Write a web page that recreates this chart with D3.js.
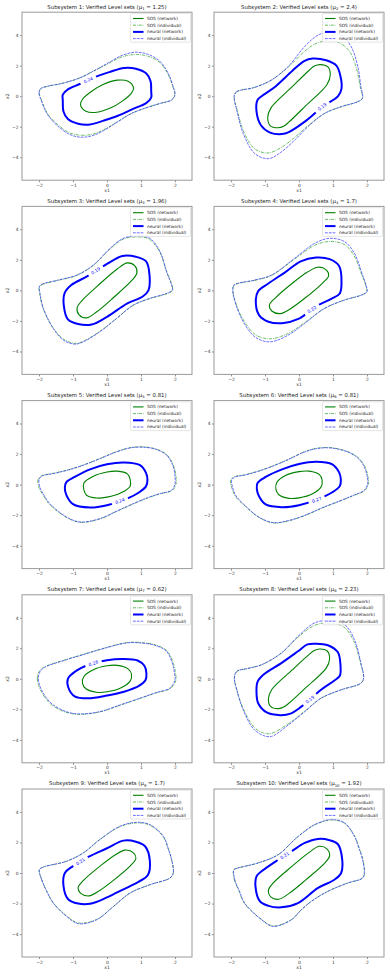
<!DOCTYPE html>
<html><head><meta charset="utf-8">
<script src="https://cdn.jsdelivr.net/npm/d3@7"></script>
<style>
body{margin:0;background:#fff;}
svg{display:block;font-family:"DejaVu Sans",sans-serif;}
</style></head><body>
<svg id="chart" width="390" height="976"></svg>
<script>
// mu value per subsystem and the level printed on the neural (network) contour
const mus = [1.25, 2.4, 1.96, 1.7, 0.81, 0.81, 0.62, 2.23, 1.7, 1.92];
const levelLabels = ["0.24", "0.19", "0.19", "0.22", "0.24", "0.27", "0.28", "0.19", "0.21", "0.21"];
const labelPoints = [[-0.55,1.05],[0.68,-0.7],[-0.33,1.28],[0.38,-1.25],[0.38,-1.08],[0.52,-0.99],[-0.4,1.02],[0.32,-1.36],[-0.78,0.75],[-0.42,1.14]];
const xTicks = [-2, -1, 0, 1, 2];
const yTicks = [-4, -2, 0, 2, 4];
const legendLabels = ["SOS (network)", "SOS (individual)", "neural (network)", "neural (individual)"];

// level set curves, one list of (x1, x2) points per subsystem
const sosNetwork = [
  [[0.78,0.55],[0.62,0.98],[0.3,1.05],[-0.1,0.78],[-0.45,0.32],[-0.72,-0.2],[-0.78,-0.55],[-0.62,-0.98],[-0.3,-1.05],[0.1,-0.78],[0.45,-0.32],[0.72,0.2]],
  [[0.62,2.07],[0.85,1.92],[0.92,1.4],[0.82,0.75],[0.2,-0.62],[-0.3,-1.7],[-0.45,-1.97],[-0.62,-2.07],[-0.85,-1.92],[-0.92,-1.4],[-0.82,-0.75],[-0.2,0.62],[0.3,1.7],[0.45,1.97]],
  [[0.6,1.8],[0.82,1.6],[0.88,1.15],[0.75,0.7],[0.2,-0.45],[-0.3,-1.4],[-0.6,-1.8],[-0.82,-1.6],[-0.88,-1.15],[-0.75,-0.7],[-0.2,0.45],[0.3,1.4]],
  [[0.55,1.52],[0.8,1.35],[0.87,0.95],[0.7,0.5],[0.15,-0.55],[-0.25,-1.2],[-0.55,-1.52],[-0.8,-1.35],[-0.87,-0.95],[-0.7,-0.5],[-0.15,0.55],[0.25,1.2]],
  [[0.68,0.35],[0.6,0.7],[0.3,0.88],[0.0,0.82],[-0.4,0.55],[-0.68,0.1],[-0.68,-0.35],[-0.6,-0.7],[-0.3,-0.88],[0.0,-0.82],[0.4,-0.55],[0.68,-0.1]],
  [[0.68,0.3],[0.6,0.65],[0.3,0.88],[0.0,0.85],[-0.4,0.6],[-0.65,0.15],[-0.68,-0.3],[-0.6,-0.65],[-0.3,-0.9],[0.0,-0.87],[0.4,-0.6],[0.65,-0.15]],
  [[0.72,0.3],[0.62,0.65],[0.3,0.88],[0.0,0.85],[-0.4,0.6],[-0.68,0.15],[-0.72,-0.3],[-0.62,-0.65],[-0.3,-0.88],[0.0,-0.85],[0.4,-0.6],[0.68,-0.15]],
  [[0.6,1.95],[0.83,1.82],[0.9,1.3],[0.8,0.7],[0.2,-0.58],[-0.3,-1.6],[-0.45,-1.85],[-0.6,-1.95],[-0.83,-1.82],[-0.9,-1.3],[-0.8,-0.7],[-0.2,0.58],[0.3,1.6],[0.45,1.85]],
  [[0.53,1.5],[0.78,1.32],[0.85,0.95],[0.7,0.5],[0.15,-0.55],[-0.25,-1.2],[-0.53,-1.5],[-0.78,-1.32],[-0.85,-0.95],[-0.7,-0.5],[-0.15,0.55],[0.25,1.2]],
  [[0.6,1.75],[0.82,1.58],[0.9,1.12],[0.77,0.68],[0.2,-0.45],[-0.3,-1.35],[-0.6,-1.72],[-0.82,-1.58],[-0.9,-1.12],[-0.77,-0.68],[-0.2,0.45],[0.3,1.35]]
];

const neuralNetwork = [
  [[1.3,0.3],[1.28,1.0],[1.15,1.5],[0.85,1.8],[0.5,1.85],[0.1,1.6],[-0.3,1.3],[-0.8,0.8],[-1.15,0.45],[-1.3,0.1],[-1.3,-0.3],[-1.28,-1.0],[-1.15,-1.5],[-0.85,-1.8],[-0.5,-1.85],[-0.1,-1.6],[0.3,-1.3],[0.8,-0.8],[1.15,-0.45],[1.3,-0.1]],
  [[0.4,2.47],[0.8,2.35],[1.1,2.0],[1.22,1.3],[1.25,0.5],[1.15,0.0],[0.7,-0.68],[0.15,-1.7],[-0.3,-2.35],[-0.5,-2.48],[-0.85,-2.38],[-1.12,-1.9],[-1.25,-1.0],[-1.22,-0.25],[-1.1,0.0],[-0.7,0.62],[-0.2,1.65],[0.15,2.3]],
  [[0.45,2.25],[0.85,2.2],[1.15,1.9],[1.25,1.0],[1.22,0.0],[1.05,-0.4],[0.6,-0.85],[0.0,-1.73],[-0.45,-2.23],[-0.85,-2.2],[-1.15,-1.9],[-1.27,-1.0],[-1.25,-0.2],[-1.05,0.35],[-0.6,0.9],[0.0,1.73]],
  [[0.5,2.15],[0.9,2.05],[1.18,1.6],[1.25,0.5],[1.2,-0.2],[0.95,-0.55],[0.5,-1.05],[0.0,-1.85],[-0.5,-2.15],[-0.9,-2.05],[-1.18,-1.6],[-1.27,-0.6],[-1.2,-0.05],[-0.9,0.45],[-0.4,1.2],[0.05,1.9]],
  [[1.19,0.3],[1.15,0.75],[0.97,1.27],[0.5,1.45],[0.0,1.33],[-0.5,1.0],[-0.95,0.5],[-1.2,0.15],[-1.24,-0.2],[-1.2,-0.65],[-1.0,-1.28],[-0.5,-1.5],[0.0,-1.35],[0.5,-1.0],[0.95,-0.5],[1.15,-0.1]],
  [[1.23,0.35],[1.18,0.8],[0.98,1.33],[0.5,1.5],[0.0,1.35],[-0.5,1.0],[-0.98,0.5],[-1.22,0.1],[-1.24,-0.3],[-1.18,-0.75],[-0.98,-1.3],[-0.5,-1.48],[0.0,-1.35],[0.5,-1.0],[0.98,-0.5],[1.2,-0.1]],
  [[1.16,0.35],[1.1,0.85],[0.9,1.2],[0.48,1.3],[0.0,1.22],[-0.5,0.95],[-0.95,0.45],[-1.15,0.0],[-1.14,-0.55],[-0.95,-1.15],[-0.55,-1.28],[0.0,-1.1],[0.5,-0.85],[0.95,-0.45],[1.13,-0.1]],
  [[0.5,2.3],[0.85,2.2],[1.14,1.75],[1.22,0.9],[1.2,0.2],[1.05,-0.1],[0.65,-0.72],[0.07,-1.82],[-0.25,-2.28],[-0.55,-2.38],[-0.95,-2.2],[-1.2,-1.6],[-1.25,-0.9],[-1.22,-0.2],[-1.05,0.26],[-0.52,1.03],[-0.03,1.8],[0.25,2.25]],
  [[0.48,2.12],[0.85,2.05],[1.12,1.75],[1.26,0.8],[1.2,-0.15],[0.95,-0.55],[0.5,-1.05],[0.0,-1.6],[-0.5,-2.02],[-0.85,-2.0],[-1.15,-1.7],[-1.28,-0.85],[-1.24,0.0],[-1.0,0.45],[-0.55,1.05],[0.0,1.62]],
  [[0.56,2.23],[0.9,2.15],[1.14,1.9],[1.27,0.9],[1.24,0.0],[1.04,-0.44],[0.56,-0.98],[-0.03,-1.97],[-0.52,-2.25],[-0.9,-2.15],[-1.15,-1.85],[-1.28,-0.87],[-1.25,-0.22],[-1.1,0.11],[-0.61,0.87],[-0.22,1.42],[0.17,1.97]]
];

const neuralIndividual = [
  [[-1.95,0.5],[-2.0,0.2],[-1.93,-0.3],[-1.75,-1.2],[-1.45,-1.95],[-1.1,-2.5],[-0.8,-2.68],[-0.45,-2.6],[-0.1,-2.25],[0.3,-1.7],[0.7,-1.15],[1.1,-0.8],[1.6,-0.45],[1.9,-0.25],[2.0,0.1],[1.95,0.6],[1.8,1.5],[1.55,2.3],[1.2,2.75],[0.85,2.88],[0.45,2.68],[0.05,2.2],[-0.35,1.7],[-0.8,1.2],[-1.3,0.85],[-1.75,0.65]],
  [[-1.9,0.08],[-1.83,0.3],[-1.3,0.58],[-0.81,1.06],[-0.32,1.94],[0.17,3.26],[0.56,4.0],[0.9,4.2],[1.24,4.0],[1.53,3.26],[1.73,1.94],[1.82,0.63],[1.87,-0.14],[1.73,-0.36],[1.24,-0.69],[0.75,-1.13],[0.26,-2.0],[-0.13,-2.88],[-0.52,-3.65],[-0.9,-4.09],[-1.3,-3.76],[-1.64,-2.44],[-1.83,-0.91],[-1.9,-0.25]],
  [[-1.99,0.24],[-1.92,0.4],[-1.43,0.68],[-0.89,1.0],[-0.4,1.66],[0.09,2.75],[0.48,3.41],[0.92,3.56],[1.26,3.41],[1.56,2.54],[1.75,1.22],[1.9,0.35],[1.92,0.02],[1.75,-0.2],[1.26,-0.52],[0.77,-0.96],[0.28,-1.84],[-0.21,-2.71],[-0.7,-3.37],[-0.94,-3.52],[-1.28,-3.26],[-1.58,-2.49],[-1.87,-1.18],[-1.97,-0.2]],
  [[-1.91,0.35],[-1.3,0.68],[-0.81,1.0],[-0.13,2.1],[0.46,3.08],[0.9,3.41],[1.34,3.19],[1.63,2.43],[1.87,1.0],[1.97,0.35],[2.0,-0.09],[1.83,-0.31],[1.34,-0.63],[0.75,-1.18],[0.17,-2.16],[-0.32,-2.93],[-0.86,-3.37],[-1.3,-3.04],[-1.69,-1.84],[-1.91,-0.52],[-1.95,0.05]],
  [[-1.92,0.55],[-2.0,0.3],[-1.97,-0.2],[-1.85,-0.7],[-1.68,-1.25],[-1.19,-2.12],[-0.79,-2.45],[-0.21,-2.23],[0.3,-1.72],[0.77,-1.25],[1.2,-0.85],[1.56,-0.59],[1.9,-0.37],[2.0,0.05],[2.0,0.5],[1.95,1.16],[1.75,1.93],[1.36,2.36],[0.77,2.43],[0.28,2.14],[-0.2,1.7],[-0.7,1.27],[-1.15,0.95],[-1.58,0.72]],
  [[-1.88,0.5],[-1.98,0.28],[-1.95,-0.2],[-1.85,-0.75],[-1.59,-1.36],[-1.2,-2.1],[-0.76,-2.49],[-0.3,-2.35],[0.17,-2.01],[0.7,-1.5],[1.24,-1.03],[1.6,-0.7],[1.92,-0.37],[2.02,0.07],[2.0,0.6],[1.92,1.16],[1.75,1.7],[1.53,2.04],[1.2,2.3],[0.85,2.41],[0.5,2.35],[0.17,2.14],[-0.45,1.5],[-1.1,0.94],[-1.6,0.62]],
  [[-1.99,0.37],[-2.02,0.0],[-1.97,-0.5],[-1.8,-1.2],[-1.58,-1.71],[-1.2,-2.15],[-0.84,-2.3],[-0.21,-2.15],[0.4,-1.7],[0.97,-1.27],[1.45,-0.9],[1.85,-0.61],[2.0,-0.07],[1.98,0.4],[1.95,0.81],[1.75,1.8],[1.4,2.2],[0.97,2.35],[0.58,2.35],[-0.21,1.91],[-0.7,1.58],[-1.19,1.25],[-1.87,0.7]],
  [[-1.9,0.04],[-1.83,0.48],[-1.5,0.68],[-1.1,0.92],[-0.52,1.69],[-0.03,2.78],[0.46,3.66],[0.95,3.82],[1.34,3.55],[1.63,2.57],[1.82,1.03],[1.9,0.04],[1.82,-0.29],[1.24,-0.72],[0.65,-1.27],[0.17,-2.15],[-0.32,-3.03],[-0.86,-3.79],[-1.3,-3.36],[-1.64,-2.04],[-1.83,-0.72]],
  [[-1.99,0.22],[-1.92,-0.44],[-1.75,-1.3],[-1.58,-1.97],[-1.19,-2.84],[-0.84,-3.32],[-0.3,-3.06],[0.19,-2.19],[0.68,-1.31],[1.26,-0.77],[1.85,-0.33],[1.95,0.0],[1.9,0.87],[1.8,1.6],[1.66,2.4],[1.26,3.17],[0.87,3.32],[0.38,3.06],[-0.21,2.19],[-0.7,1.31],[-1.19,0.77],[-1.87,0.39]],
  [[-1.91,0.22],[-1.89,-0.44],[-1.75,-1.2],[-1.6,-1.97],[-1.1,-3.06],[-0.76,-3.5],[-0.22,-3.06],[0.05,-2.45],[0.36,-1.86],[0.85,-1.2],[1.43,-0.66],[1.87,-0.33],[1.92,0.0],[1.87,0.87],[1.75,1.7],[1.63,2.4],[1.34,3.28],[0.95,3.5],[0.46,3.17],[0.15,2.7],[-0.13,2.19],[-0.61,1.2],[-1.2,0.66],[-1.79,0.33]]
];

const sosIndividual = [
  [[-1.95,0.48],[-1.99,0.2],[-1.92,-0.3],[-1.73,-1.2],[-1.43,-1.9],[-1.1,-2.4],[-0.8,-2.55],[-0.45,-2.5],[-0.1,-2.2],[0.3,-1.68],[0.7,-1.15],[1.1,-0.8],[1.6,-0.45],[1.9,-0.25],[1.99,0.1],[1.94,0.6],[1.78,1.5],[1.53,2.25],[1.2,2.62],[0.85,2.73],[0.45,2.58],[0.05,2.15],[-0.35,1.7],[-0.8,1.2],[-1.3,0.85],[-1.75,0.65]],
  [[-1.9,0.08],[-1.83,0.3],[-1.3,0.58],[-0.81,1.06],[-0.32,1.9],[0.17,2.95],[0.5,3.45],[0.85,3.62],[1.2,3.48],[1.48,2.95],[1.68,1.9],[1.8,0.63],[1.86,-0.14],[1.73,-0.36],[1.24,-0.69],[0.75,-1.13],[0.26,-1.95],[-0.13,-2.7],[-0.55,-3.4],[-0.92,-3.72],[-1.3,-3.45],[-1.62,-2.35],[-1.82,-0.91],[-1.9,-0.25]],
  [[-1.99,0.22],[-1.9,0.38],[-1.43,0.66],[-0.89,0.98],[-0.4,1.64],[0.09,2.72],[0.48,3.36],[0.9,3.5],[1.24,3.36],[1.55,2.52],[1.76,1.22],[1.91,0.35],[1.93,0.0],[1.76,-0.22],[1.26,-0.54],[0.77,-0.98],[0.28,-1.84],[-0.21,-2.68],[-0.7,-3.33],[-0.92,-3.47],[-1.26,-3.22],[-1.58,-2.47],[-1.88,-1.18],[-1.98,-0.2]],
  [[-1.91,0.33],[-1.3,0.66],[-0.81,0.98],[-0.13,2.05],[0.46,2.95],[0.9,3.2],[1.32,3.02],[1.6,2.35],[1.85,1.0],[1.96,0.35],[1.99,-0.09],[1.83,-0.31],[1.34,-0.63],[0.75,-1.18],[0.17,-2.1],[-0.32,-2.82],[-0.86,-3.17],[-1.28,-2.9],[-1.67,-1.8],[-1.9,-0.52],[-1.94,0.05]],
  [[-1.94,0.56],[-2.03,0.3],[-2.0,-0.2],[-1.87,-0.72],[-1.7,-1.27],[-1.2,-2.14],[-0.79,-2.47],[-0.21,-2.25],[0.3,-1.74],[0.77,-1.27],[1.2,-0.87],[1.57,-0.6],[1.92,-0.38],[2.03,0.05],[2.03,0.5],[1.97,1.17],[1.77,1.94],[1.36,2.38],[0.77,2.45],[0.28,2.16],[-0.2,1.72],[-0.7,1.28],[-1.15,0.96],[-1.58,0.74]],
  [[-1.9,0.52],[-2.01,0.28],[-1.98,-0.2],[-1.87,-0.77],[-1.6,-1.38],[-1.2,-2.12],[-0.76,-2.51],[-0.3,-2.37],[0.17,-2.03],[0.7,-1.52],[1.24,-1.05],[1.6,-0.72],[1.94,-0.38],[2.04,0.07],[2.02,0.6],[1.94,1.17],[1.77,1.71],[1.54,2.06],[1.2,2.32],[0.85,2.43],[0.5,2.37],[0.17,2.16],[-0.45,1.52],[-1.1,0.96],[-1.62,0.63]],
  [[-2.02,0.38],[-2.05,0.0],[-2.0,-0.5],[-1.83,-1.22],[-1.61,-1.74],[-1.22,-2.18],[-0.84,-2.33],[-0.21,-2.17],[0.4,-1.72],[0.97,-1.29],[1.45,-0.92],[1.87,-0.63],[2.03,-0.07],[2.01,0.4],[1.98,0.82],[1.77,1.82],[1.41,2.23],[0.97,2.38],[0.58,2.37],[-0.21,1.93],[-0.7,1.6],[-1.19,1.27],[-1.89,0.72]],
  [[-1.9,0.04],[-1.83,0.48],[-1.5,0.68],[-1.1,0.92],[-0.52,1.67],[-0.03,2.72],[0.46,3.5],[0.9,3.64],[1.3,3.42],[1.6,2.52],[1.81,1.03],[1.9,0.04],[1.82,-0.29],[1.24,-0.72],[0.65,-1.27],[0.17,-2.12],[-0.32,-2.95],[-0.88,-3.6],[-1.28,-3.25],[-1.63,-2.0],[-1.83,-0.72]],
  [[-1.99,0.22],[-1.92,-0.44],[-1.75,-1.3],[-1.58,-1.95],[-1.19,-2.8],[-0.84,-3.27],[-0.3,-3.03],[0.19,-2.19],[0.68,-1.31],[1.26,-0.77],[1.85,-0.33],[1.95,0.0],[1.9,0.87],[1.8,1.6],[1.65,2.38],[1.26,3.13],[0.87,3.28],[0.38,3.03],[-0.21,2.19],[-0.7,1.31],[-1.19,0.77],[-1.87,0.39]],
  [[-1.92,0.22],[-1.9,-0.44],[-1.76,-1.2],[-1.61,-1.97],[-1.1,-3.04],[-0.76,-3.47],[-0.22,-3.04],[0.05,-2.45],[0.36,-1.86],[0.85,-1.2],[1.43,-0.66],[1.87,-0.33],[1.93,0.0],[1.88,0.87],[1.76,1.7],[1.64,2.4],[1.34,3.26],[0.95,3.47],[0.46,3.15],[0.15,2.7],[-0.13,2.19],[-0.61,1.2],[-1.2,0.66],[-1.79,0.33]]
];

const svg = d3.select("#chart");
const W = 170, H = 168;
const colX = [22, 214];
const rowTop = 12.2, rowStep = 194.2;

const styles = [
  {color: "#008000", width: 1.1, dash: null, opacity: 1},
  {color: "#2ca02c", width: 0.8, dash: "3,1,0.8,1", opacity: 0.9},
  {color: "#0000ff", width: 2.0, dash: null, opacity: 1},
  {color: "#2a2aff", width: 0.8, dash: "2.8,1", opacity: 0.85}
];

const x = d3.scaleLinear().domain([-2.5, 2.5]).range([0, W]);
const y = d3.scaleLinear().domain([-5.5, 5.5]).range([H, 0]);
const line = d3.line().x(d => x(d[0])).y(d => y(d[1])).curve(d3.curveCatmullRomClosed.alpha(0.5));

const defs = svg.append("defs");

mus.forEach(function(mu, i) {
  const col = i % 2, row = Math.floor(i / 2);
  const g = svg.append("g").attr("transform", "translate(" + colX[col] + "," + (rowTop + row * rowStep) + ")");

  defs.append("clipPath").attr("id", "clip" + i)
    .append("rect").attr("width", W).attr("height", H);

  // title
  const t = g.append("text").attr("x", W / 2).attr("y", -3.6)
    .attr("text-anchor", "middle").attr("font-size", 5.4).attr("fill", "#222");
  t.append("tspan").text("Subsystem " + (i + 1) + ": Verified Level sets (μ");
  t.append("tspan").attr("font-size", 3.8).attr("dy", 1.1).text(i + 1);
  t.append("tspan").attr("dy", -1.1).text(" = " + mu + ")");

  // label angle from nearest segment of neural (network) curve
  const pts = neuralNetwork[i];
  const lp = labelPoints[i];
  let best = 0, bd = Infinity;
  pts.forEach(function(p, k) {
    const d = Math.hypot(x(p[0]) - x(lp[0]), y(p[1]) - y(lp[1]));
    if (d < bd) { bd = d; best = k; }
  });
  const pa = pts[(best - 1 + pts.length) % pts.length], pb = pts[(best + 1) % pts.length];
  let ang = Math.atan2(y(pb[1]) - y(pa[1]), x(pb[0]) - x(pa[0])) * 180 / Math.PI;
  if (ang > 90) ang -= 180;
  if (ang < -90) ang += 180;
  const lx = x(lp[0]), ly = y(lp[1]);

  const mask = defs.append("mask").attr("id", "mask" + i).attr("maskUnits", "userSpaceOnUse")
    .attr("x", -5).attr("y", -5).attr("width", W + 10).attr("height", H + 10);
  mask.append("rect").attr("x", -5).attr("y", -5).attr("width", W + 10).attr("height", H + 10).attr("fill", "#fff");
  mask.append("rect").attr("x", -8.5).attr("y", -3).attr("width", 17).attr("height", 6).attr("fill", "#000")
    .attr("transform", "translate(" + lx + "," + ly + ") rotate(" + ang + ")");

  const plot = g.append("g").attr("clip-path", "url(#clip" + i + ")");
  const series = [sosNetwork[i], sosIndividual[i], neuralNetwork[i], neuralIndividual[i]];
  series.forEach(function(s, k) {
    const st = styles[k];
    const p = plot.append("path").attr("d", line(s)).attr("fill", "none")
      .attr("stroke", st.color).attr("stroke-width", st.width).attr("opacity", st.opacity);
    if (st.dash) p.attr("stroke-dasharray", st.dash);
    if (k === 2) p.attr("mask", "url(#mask" + i + ")");
  });

  plot.append("text").attr("transform", "translate(" + lx + "," + ly + ") rotate(" + ang + ")")
    .attr("text-anchor", "middle").attr("dy", "0.35em").attr("font-size", 4.4)
    .attr("fill", "#0000ff").text(levelLabels[i]);

  // axes
  const xa = g.append("g").attr("transform", "translate(0," + H + ")")
    .call(d3.axisBottom(x).tickValues(xTicks).tickSize(2).tickPadding(1.5).tickFormat(d3.format("")));
  const ya = g.append("g")
    .call(d3.axisLeft(y).tickValues(yTicks).tickSize(2).tickPadding(1.5).tickFormat(d3.format("")));
  [xa, ya].forEach(function(a) {
    a.select(".domain").remove();
    a.selectAll("line").attr("stroke", "#444").attr("stroke-width", 0.6);
    a.selectAll("text").attr("font-size", 4.4).attr("fill", "#333").attr("font-family", "DejaVu Sans");
  });

  g.append("rect").attr("width", W).attr("height", H).attr("fill", "none")
    .attr("stroke", "#999").attr("stroke-width", 1);

  g.append("text").attr("x", W / 2).attr("y", H + 11.5).attr("text-anchor", "middle")
    .attr("font-size", 4.6).attr("fill", "#333").text("x1");
  g.append("text").attr("transform", "translate(-13," + (H / 2) + ") rotate(-90)")
    .attr("text-anchor", "middle").attr("font-size", 4.6).attr("fill", "#333").text("x2");

  // legend
  const lg = g.append("g").attr("transform", "translate(" + (W - 61.5) + ",1.3)");
  lg.append("rect").attr("width", 60).attr("height", 28.7).attr("rx", 1).attr("fill", "#fff")
    .attr("fill-opacity", 0.85).attr("stroke", "#ccc").attr("stroke-width", 0.5);
  legendLabels.forEach(function(lab, k) {
    const st = styles[k];
    const yy = 5 + k * 6.7;
    const l = lg.append("line").attr("x1", 2.5).attr("x2", 13).attr("y1", yy).attr("y2", yy)
      .attr("stroke", st.color).attr("stroke-width", st.width).attr("opacity", st.opacity);
    if (st.dash) l.attr("stroke-dasharray", st.dash);
    lg.append("text").attr("x", 16.5).attr("y", yy).attr("dy", "0.35em")
      .attr("font-size", 4.3).attr("fill", "#222").text(lab);
  });
});
</script>
</body></html>
